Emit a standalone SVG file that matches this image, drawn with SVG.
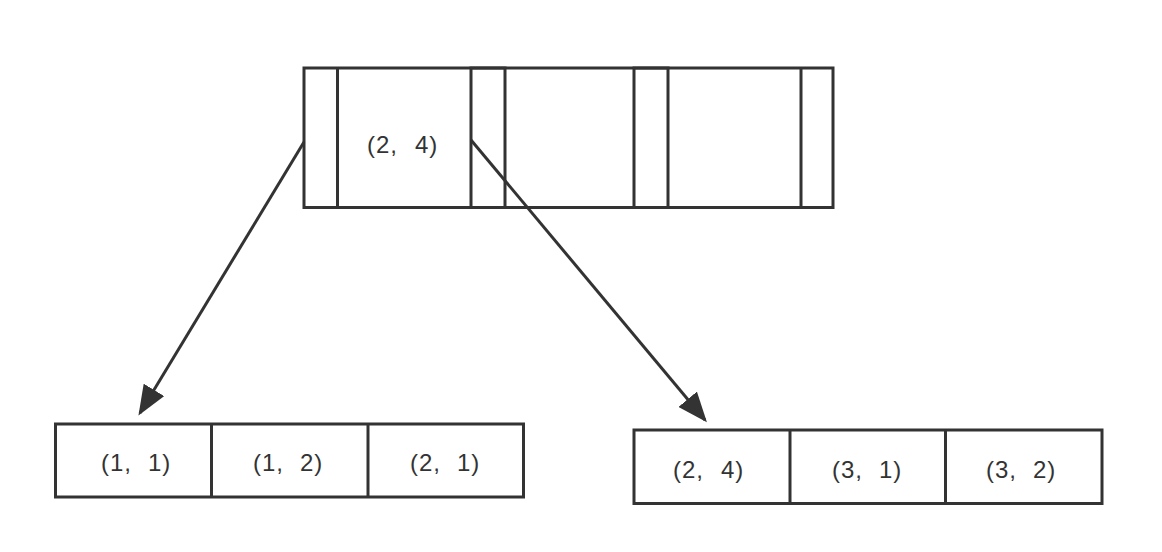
<svg xmlns="http://www.w3.org/2000/svg" width="1162" height="552" viewBox="0 0 1162 552">
<style>
.b{fill:none;stroke:#333;stroke-width:3}
.t{font-family:"Liberation Sans",Arial,sans-serif;font-size:24px;fill:#333;letter-spacing:1px}
.c{stroke:#333;stroke-width:3;fill:none}
</style>
<defs>
<marker id="ah" markerWidth="10" markerHeight="8" refX="9" refY="4" orient="auto" markerUnits="strokeWidth">
<path d="M0,0 L10,4 L0,8 Z" fill="#333"/>
</marker>
</defs>
<rect width="1162" height="552" fill="#fff"/>
<g id="root">
<rect class="b" x="304" y="68" width="529" height="139.5"/>
<line class="b" x1="337.5" y1="68" x2="337.5" y2="207.5"/>
<rect class="b" x="471" y="68" width="34" height="139.5"/>
<rect class="b" x="634" y="68" width="34" height="139.5"/>
<line class="b" x1="801" y1="68" x2="801" y2="207.5"/>
<text class="t" x="367" y="152.5">(2,<tspan x="415">4)</tspan></text>
</g>
<g id="leaf-left">
<rect class="b" x="55.5" y="424" width="468" height="73"/>
<line class="b" x1="211.5" y1="424" x2="211.5" y2="497"/>
<line class="b" x1="368" y1="424" x2="368" y2="497"/>
<text class="t" x="101" y="470.5">(1,<tspan x="148">1)</tspan></text>
<text class="t" x="253" y="470.5">(1,<tspan x="300">2)</tspan></text>
<text class="t" x="410" y="470.5">(2,<tspan x="457">1)</tspan></text>
</g>
<g id="leaf-right">
<rect class="b" x="634" y="430" width="468" height="73.5"/>
<line class="b" x1="790" y1="430" x2="790" y2="503.5"/>
<line class="b" x1="945.5" y1="430" x2="945.5" y2="503.5"/>
<text class="t" x="673" y="477.5">(2,<tspan x="721">4)</tspan></text>
<text class="t" x="832" y="477.5">(3,<tspan x="879">1)</tspan></text>
<text class="t" x="986" y="477.5">(3,<tspan x="1033">2)</tspan></text>
</g>
<g id="connectors">
<line class="c" x1="304" y1="142" x2="140" y2="413" marker-end="url(#ah)"/>
<line class="c" x1="471" y1="140" x2="705" y2="420" marker-end="url(#ah)"/>
</g>
</svg>
